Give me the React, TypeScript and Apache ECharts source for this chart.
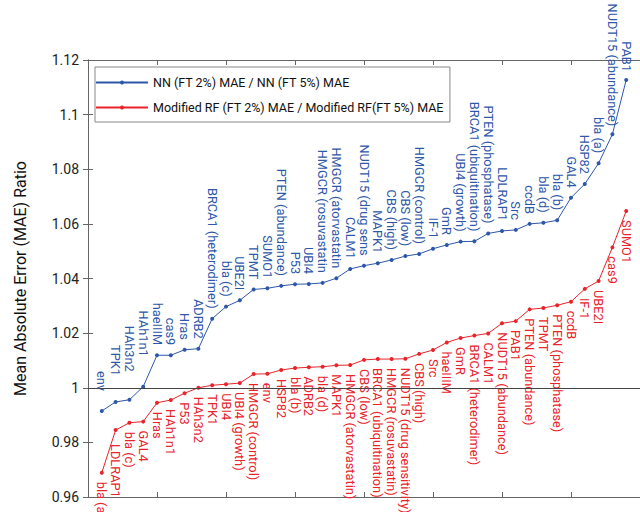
import React, { useEffect, useRef } from "react";
import * as echarts from "echarts";

const nnNames = [
  "env", "TPK1", "HAh3n2", "HAh1n1", "haeIIIM", "cas9", "Hras", "ADRB2",
  "BRCA1 (heterodimer)", "bla (c)", "UBE2I", "TPMT", "SUMO1", "PTEN (abundance)",
  "P53", "UBI4", "HMGCR (rosuvastatin", "HMGCR (atorvastatin", "CALM1",
  "NUDT15 (drug sens", "MAPK1", "CBS (high)", "CBS (low)", "HMGCR (control)",
  "IF-1", "GmR", "UBI4 (growth)", "BRCA1 (ubiquitination)", "PTEN (phosphatase)",
  "LDLRAP1", "Src", "ccdB", "bla (d)", "bla (b)", "GAL4", "HSP82", "bla (a)",
  "NUDT15 (abundance)", "PAB1",
];
const nnValues = [
  0.9915, 0.9948, 0.9956, 1.0004, 1.0119, 1.0119, 1.0139, 1.0143,
  1.0253, 1.0297, 1.032, 1.036, 1.0364, 1.0373,
  1.0379, 1.038, 1.0384, 1.0401, 1.0435,
  1.0447, 1.0456, 1.0468, 1.0482, 1.049,
  1.0509, 1.0523, 1.0535, 1.0536, 1.0565,
  1.0574, 1.0578, 1.06, 1.0604, 1.0613, 1.0696, 1.0746, 1.0822,
  1.0928, 1.1127,
];

const rfNames = [
  "bla (a)", "LDLRAP1", "bla (c)", "GAL4", "Hras", "HAh1n1", "P53", "HAh3n2",
  "TPK1", "UBI4", "UBI4 (growth)", "HMGCR (control)", "env", "HSP82", "bla (b)",
  "ADRB2", "bla (d)", "MAPK1", "HMGCR (atorvastatin)", "CBS (low)",
  "BRCA1 (ubiquitination)", "HMGCR (rosuvastatin)", "NUDT15 (drug sensitivity)",
  "CBS (high)", "Src", "haeIIIM", "GmR", "BRCA1 (heterodimer)", "CALM1",
  "NUDT15 (abundance)", "PAB1", "PTEN (abundance)", "TPMT", "PTEN (phosphatase)",
  "ccdB", "IF-1", "UBE2I", "cas9", "SUMO1",
];
const rfValues = [
  0.9689, 0.9845, 0.9872, 0.9876, 0.9945, 0.9955, 0.998, 1.0,
  1.0009, 1.0013, 1.0017, 1.005, 1.0051, 1.0065, 1.0072,
  1.0075, 1.0077, 1.0082, 1.0083, 1.0102,
  1.0105, 1.0105, 1.0106,
  1.0124, 1.0138, 1.0166, 1.0182, 1.0191, 1.0199,
  1.0236, 1.0244, 1.0287, 1.0292, 1.0302,
  1.0315, 1.0362, 1.0391, 1.0514, 1.0647,
];

const yTicks = { min: 0.96, max: 1.12, interval: 0.02 };
const xTicks = { min: 0, max: 40, interval: 5 };

// label gaps (style): the first blue labels sit a little higher
const nnGapByIndex: Record<number, number> = { 0: 18, 1: 24, 2: 26, 3: 28, 37: 6, 38: 6 };
const rfGapByIndex: Record<number, number> = { 1: 12 };

const BLUE = "#2d57a8";
const RED = "#e8232a";
const FONT = "Roboto";

export default function App() {
  const ref = useRef<HTMLDivElement>(null);
  useEffect(() => {
    if (!ref.current) return;
    const chart = echarts.init(ref.current, undefined, { renderer: "svg" });
    const axisLine = { show: true, lineStyle: { color: "#666", width: 1 } };
    const tick = { show: true, inside: true, length: 5, lineStyle: { color: "#666" } };
    const fmt = (v: number) => String(parseFloat(v.toFixed(2)));
    chart.setOption({
      animation: false,
      backgroundColor: "#fff",
      textStyle: { fontFamily: FONT },
      grid: { left: 88, right: -2, top: 60, bottom: 15 },
      legend: {
        left: 95,
        top: 67,
        orient: "vertical",
        backgroundColor: "#fff",
        borderColor: "#888",
        borderWidth: 1,
        padding: [8, 6, 7, 0],
        itemWidth: 52,
        itemHeight: 5,
        itemGap: 10,
        textStyle: { fontFamily: FONT, fontSize: 12.5, color: "#111", lineHeight: 15 },
        data: [
          "NN (FT 2%) MAE / NN (FT 5%) MAE",
          "Modified RF (FT 2%) MAE / Modified RF(FT 5%) MAE",
        ],
      },
      xAxis: [
        {
          type: "value",
          min: xTicks.min,
          max: xTicks.max,
          interval: xTicks.interval,
          axisLine,
          axisTick: tick,
          axisLabel: { show: false },
          splitLine: { show: false },
        },
        {
          type: "value",
          position: "top",
          min: xTicks.min,
          max: xTicks.max,
          interval: xTicks.interval,
          axisLine,
          axisTick: tick,
          axisLabel: { show: false },
          splitLine: { show: false },
        },
      ],
      yAxis: [
        {
          type: "value",
          min: yTicks.min,
          max: yTicks.max,
          interval: yTicks.interval,
          axisLine,
          axisTick: tick,
          axisLabel: {
            formatter: fmt,
            fontFamily: FONT,
            fontSize: 14,
            color: "#222",
            margin: 9,
          },
          splitLine: { show: false },
          name: "Mean Absolute Error (MAE) Ratio",
          nameLocation: "middle",
          nameGap: 60,
          nameTextStyle: { fontFamily: FONT, fontSize: 16, color: "#111" },
        },
        {
          type: "value",
          position: "right",
          min: yTicks.min,
          max: yTicks.max,
          interval: yTicks.interval,
          axisLine,
          axisTick: tick,
          axisLabel: { show: false },
          splitLine: { show: false },
        },
      ],
      series: [
        {
          name: "NN (FT 2%) MAE / NN (FT 5%) MAE",
          type: "line",
          data: nnValues.map((v, i) => ({
            value: [i + 1, v],
            label: { distance: nnGapByIndex[i] ?? 8 },
          })),
          symbol: "circle",
          symbolSize: 4,
          itemStyle: { color: BLUE },
          lineStyle: { color: BLUE, width: 1 },
          label: {
            show: true,
            position: "top",
            rotate: -90,
            align: "right",
            verticalAlign: "middle",
            fontFamily: FONT,
            fontSize: 12.8,
            color: BLUE,
            formatter: (p: any) => nnNames[p.dataIndex],
          },
          labelLayout: { hideOverlap: false },
          markLine: {
            silent: true,
            symbol: "none",
            label: { show: false },
            lineStyle: { color: "#444", width: 1.2, type: "solid" },
            data: [{ yAxis: 1 }],
          },
          z: 3,
        },
        {
          name: "Modified RF (FT 2%) MAE / Modified RF(FT 5%) MAE",
          type: "line",
          data: rfValues.map((v, i) => ({
            value: [i + 1, v],
            label: { distance: rfGapByIndex[i] ?? 7 },
          })),
          symbol: "circle",
          symbolSize: 4,
          itemStyle: { color: RED },
          lineStyle: { color: RED, width: 1 },
          label: {
            show: true,
            position: "bottom",
            rotate: -90,
            align: "left",
            verticalAlign: "middle",
            fontFamily: FONT,
            fontSize: 12.8,
            color: RED,
            formatter: (p: any) => rfNames[p.dataIndex],
          },
          labelLayout: { hideOverlap: false },
          z: 3,
        },
      ],
    });
    return () => chart.dispose();
  }, []);
  return <div ref={ref} style={{ width: 640, height: 512, position: "absolute", left: 0, top: 0 }} />;
}
